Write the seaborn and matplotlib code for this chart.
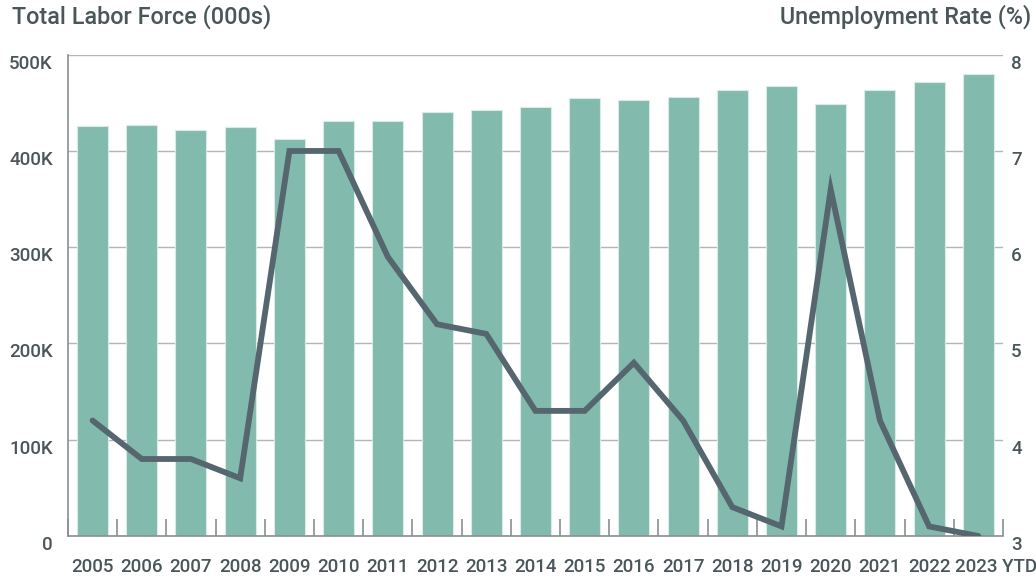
import numpy as np
import pandas as pd
import matplotlib
matplotlib.use("Agg")
import matplotlib.pyplot as plt
import matplotlib.transforms as mtransforms
from matplotlib.ticker import FuncFormatter, FixedLocator
import seaborn as sns

# Annual labor force (thousands) and unemployment rate (%)
years = ["2005", "2006", "2007", "2008", "2009", "2010", "2011", "2012", "2013", "2014",
         "2015", "2016", "2017", "2018", "2019", "2020", "2021", "2022", "2023 YTD"]
labor_force = [426, 427, 422, 425, 412, 431, 431, 441, 443, 446,
               455, 453, 456, 463, 468, 449, 463, 472, 480]
unemployment = [4.2, 3.8, 3.8, 3.6, 7.0, 7.0, 5.9, 5.2, 5.1, 4.3,
                4.3, 4.8, 4.2, 3.3, 3.1, 6.6, 4.2, 3.1, 3.0]
left_ticks = [0, 100, 200, 300, 400, 500]
right_ticks = [3, 4, 5, 6, 7, 8]

BAR = "#82bbad"
LINE = "#56666f"
TEXT = "#4a5659"
GRID = "#b5b5b5"
AXIS = "#8a8f91"
TICK_SIZE = 13.5

sns.set_theme(style="white")
plt.rcParams["font.family"] = ["Roboto", "DejaVu Sans"]

df = pd.DataFrame({"year": years, "labor": labor_force,
                   "rate": unemployment, "pos": np.arange(len(years))})

fig = plt.figure(figsize=(10.36, 5.82), dpi=100)
ax = fig.add_axes([0.0656, 0.079, 0.9025, 0.827])

sns.barplot(data=df, x="year", y="labor", color=BAR, saturation=1, width=0.63,
            edgecolor="#d8ebe6", linewidth=0.8, ax=ax, zorder=2)

ax.set_xlim(-0.5, len(years) - 0.5)
ax.set_ylim(0, 500)
ax.yaxis.set_major_locator(FixedLocator(left_ticks))
ax.yaxis.set_major_formatter(FuncFormatter(lambda v, _: "0" if v == 0 else f"{int(v)}K"))
ax.grid(axis="y", color=GRID, linewidth=1.0, zorder=0)
ax.set_axisbelow(True)
ax.set_xlabel("")
ax.set_ylabel("")

for side in ["top", "right"]:
    ax.spines[side].set_visible(False)
for side in ["left", "bottom"]:
    ax.spines[side].set_color(AXIS)
    ax.spines[side].set_linewidth(1.2)

ax.tick_params(axis="y", length=0, pad=11, labelsize=TICK_SIZE, labelcolor=TEXT)
ax.set_xticks(np.arange(-0.5, len(years)), minor=True)
ax.tick_params(axis="x", which="both", bottom=True)
ax.tick_params(axis="x", which="major", length=0, pad=16, labelsize=TICK_SIZE,
               labelcolor=TEXT)
ax.tick_params(axis="x", which="minor", direction="in", length=12, width=1.2,
               color=AXIS)

ax2 = ax.twinx()
sns.lineplot(data=df, x="pos", y="rate", color=LINE, linewidth=4.2, ax=ax2,
             zorder=3)
for ln in ax2.get_lines():
    ln.set_solid_joinstyle("miter")
ax2.set_xlim(-0.5, len(years) - 0.5)
ax2.set_ylim(3, 8)
ax2.yaxis.set_major_locator(FixedLocator(right_ticks))
ax2.set_xlabel("")
ax2.set_ylabel("")
for side in ["top", "right", "left", "bottom"]:
    ax2.spines[side].set_visible(False)
ax2.tick_params(axis="y", length=0, pad=6, labelsize=TICK_SIZE, labelcolor=TEXT)
ax2.grid(False)

# value labels sit a little below their gridlines
down = mtransforms.ScaledTranslation(0, -7 / 100, fig.dpi_scale_trans)
for lab in ax.get_yticklabels() + ax2.get_yticklabels():
    lab.set_fontweight("medium")
    lab.set_transform(lab.get_transform() + down)
for lab in ax.get_xticklabels():
    lab.set_fontweight("medium")

# shift the long final label a little to the right
last = ax.get_xticklabels()[-1]
last.set_transform(last.get_transform() +
                   mtransforms.ScaledTranslation(18 / 100, 0, fig.dpi_scale_trans))

fig.text(0.012, 0.972, "Total Labor Force (000s)", ha="left", va="center",
         fontsize=16.8, color=TEXT, fontweight="medium")
fig.text(0.995, 0.972, "Unemployment Rate (%)", ha="right", va="center",
         fontsize=16.8, color=TEXT, fontweight="medium")

fig.savefig("out.png", dpi=100)
